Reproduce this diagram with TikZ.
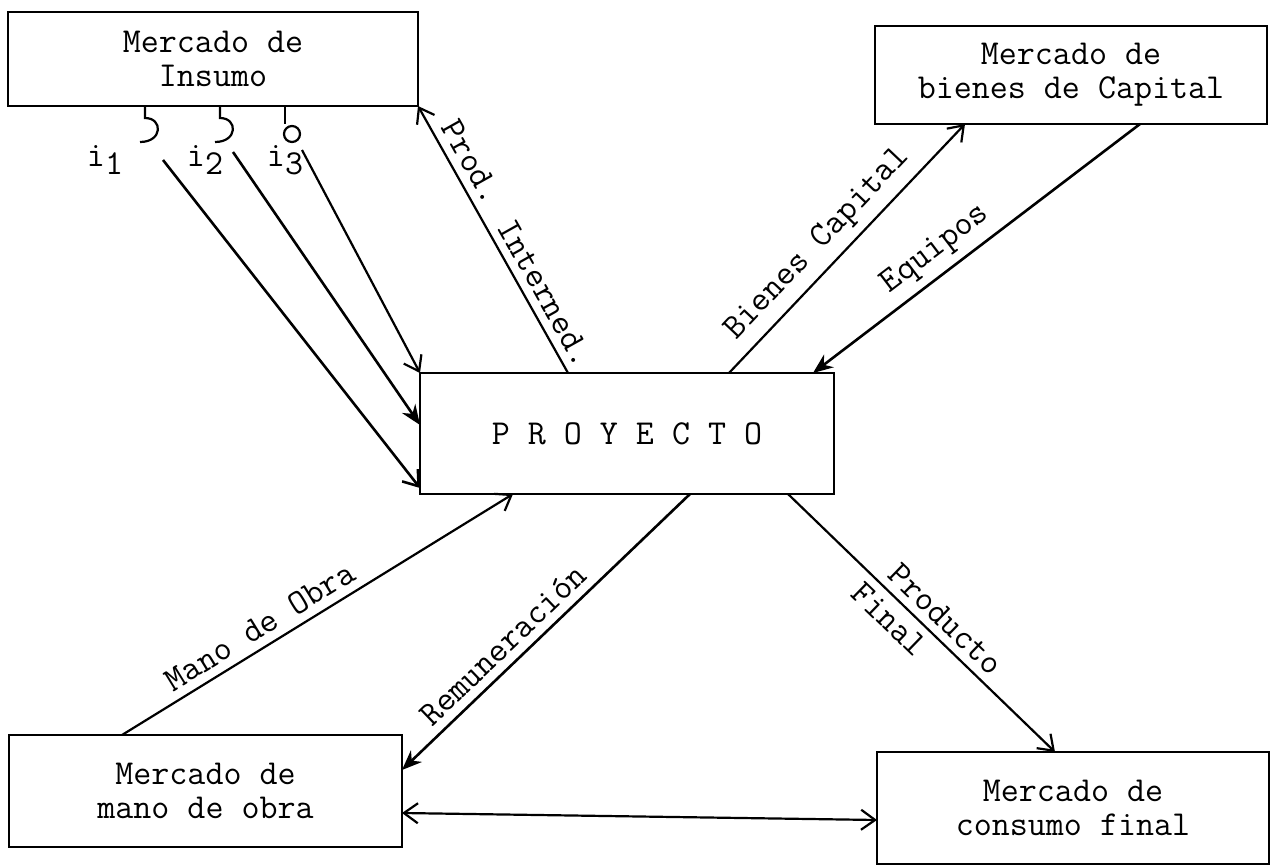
\documentclass[tikz,border=0pt]{standalone}
\usepackage{fontspec}
\usetikzlibrary{calc,arrows.meta,positioning}
\tikzstyle{market}=[draw,line width=1.4pt,align=center,inner sep=0pt,outer sep=0pt,font=\ttfamily\fontsize{17.5}{17}\selectfont]
\tikzstyle{flow}=[line width=1.1pt,-{Straight Barb[length=7pt,width=10pt]}]
\tikzstyle{heavyflow}=[line width=1.3pt,-{Stealth[length=10pt,width=8pt]}]
\tikzstyle{flowlabel}=[sloped,font=\ttfamily\fontsize{17.5}{17}\selectfont,inner sep=4pt]
\tikzstyle{inlabel}=[font=\ttfamily\fontsize{17.5}{17}\selectfont,inner sep=1pt]
\newcommand{\drawhooks}[2][\empty]{
	\foreach \x in {#2}{
		\draw[#1] (\x,106) -- (\x,118) .. controls (\x+18,118) and (\x+18,142) .. (\x-5,142);
	}
}

\begin{document}
\begin{tikzpicture}[x=0.5pt,y=-0.5pt]
\useasboundingbox (0,0) rectangle (1276,867);
% markets and project
\node[market,minimum width=205pt,minimum height=47pt] (insumo) at (213,59) {Mercado de\\Insumo};
\node[market,minimum width=196pt,minimum height=49pt] (capital) at (1071,75) {Mercado de\\bienes de Capital};
\node[market,minimum width=207pt,minimum height=60.5pt] (proyecto) at (627,433.5) {P R O Y E C T O};
\node[market,minimum width=196.5pt,minimum height=56pt] (mano) at (205.5,791) {Mercado de\\mano de obra};
\node[market,minimum width=196pt,minimum height=56pt] (consumo) at (1073,808) {Mercado de\\consumo final};

% inputs i1, i2, i3
\drawhooks[line width=1.1pt]{145,220}
\draw[line width=1.1pt] (285,106) -- (285,124);
\draw[line width=1.1pt] (292,134) circle[radius=4pt];
\node[inlabel] (li1) at (105,160) {i\raisebox{-0.5ex}{1}};
\node[inlabel] (li2) at (205,160) {i\raisebox{-0.5ex}{2}};
\node[inlabel] (li3) at (285,160) {i\raisebox{-0.5ex}{3}};
\coordinate (s1) at (163,160);
\coordinate (s2) at (233,152);
\coordinate (s3) at (302,150);
\draw[flow,line width=1.3pt] (s1) -- ($(proyecto.south west)+(0,-6)$);
\draw[heavyflow] (s2) -- ($(proyecto.north west)+(0,52)$);
\draw[flow] (s3) -- (proyecto.north west);

% flows
\draw[flow] ($(proyecto.north west)+(148,0)$) -- (insumo.south east)
	node[flowlabel,pos=0.45,above] {Prod. Interned.};
\draw[flow] ($(proyecto.north west)+(309,0)$) -- ($(capital.south west)+(90,0)$)
	node[flowlabel,pos=0.45,above] {Bienes Capital};
\draw[heavyflow] ($(capital.south west)+(265,0)$) -- ($(proyecto.north west)+(393,0)$)
	node[flowlabel,pos=0.58,above] {Equipos};
\draw[flow] ($(mano.north west)+(113,0)$) -- ($(proyecto.south west)+(93,0)$)
	node[flowlabel,pos=0.38,above] {Mano de Obra};
\draw[heavyflow] ($(proyecto.south west)+(270,0)$) -- ($(mano.north east)+(0,35)$)
	node[flowlabel,pos=0.6,above] {Remuneración};
\draw[flow] ($(proyecto.south west)+(368,0)$) -- ($(consumo.north west)+(178,0)$)
	node[flowlabel,pos=0.54,above] {Producto}
	node[flowlabel,pos=0.43,below] {Final};
\draw[line width=1.1pt,{Straight Barb[length=7pt,width=10pt]}-{Straight Barb[length=7pt,width=10pt]}] ($(mano.north east)+(0,78)$) -- ($(consumo.north west)+(0,68)$);
\end{tikzpicture}
\end{document}
